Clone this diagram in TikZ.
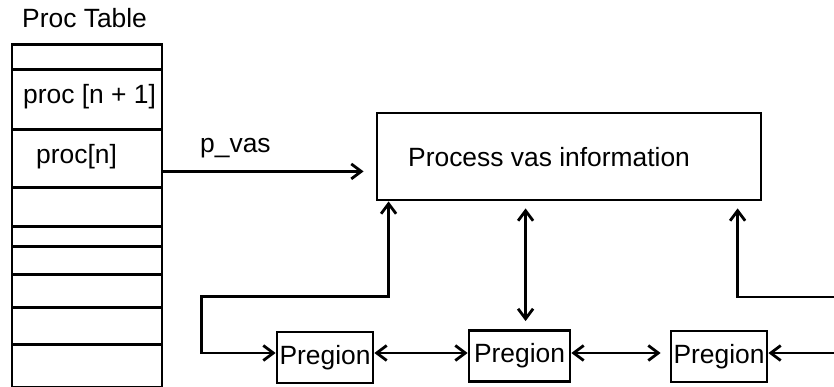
\documentclass[tikz,border=0pt]{standalone}
\usepackage{fontspec}
\setmainfont{Liberation Sans}
\usetikzlibrary{arrows.meta}
\begin{document}
\begin{tikzpicture}[x=1pt,y=-1pt,
  every node/.style={font=\fontsize{26.4}{30}\selectfont, inner sep=0pt},
  wire/.style={line width=2.8pt},
  cell/.style={draw, line width=2.8pt, minimum width=150pt, anchor=north west},
  box/.style={draw, line width=2.8pt},
  tip/.style={-{Straight Barb[length=10pt,width=15pt]}},
  tips/.style={{Straight Barb[length=10pt,width=15pt]}-{Straight Barb[length=10pt,width=15pt]}},
]
\useasboundingbox (0,0) rectangle (834,387);

% process table
\node[anchor=base west] (title) at (22,28) {Proc Table};
\node[cell, minimum height=25pt] (c1) at (10.5,43) {};
\node[cell, minimum height=60pt] (c2) at (10.5,68) {};
\node[cell, minimum height=58pt] (c3) at (10.5,128) {};
\node[cell, minimum height=39pt] (c4) at (10.5,186) {};
\node[cell, minimum height=20pt] (c5) at (10.5,225) {};
\node[cell, minimum height=28pt] (c6) at (10.5,245) {};
\node[cell, minimum height=33pt] (c7) at (10.5,273) {};
\node[cell, minimum height=37pt] (c8) at (10.5,306) {};
\node[cell, minimum height=43pt] (c9) at (10.5,343) {};
\node[anchor=base west] (t2) at (23,104) {proc [n + 1]};
\node[anchor=base west] (t3) at (36,163.5) {proc[n]};

% per-process vas information
\node[box, minimum width=384pt, minimum height=87pt] (pvi) at (569,156.5) {};
\node[anchor=base west] (pvitext) at (408,167) {Process vas information};

% pregions
\node[box, minimum width=96pt, minimum height=51pt] (pr1) at (325,357.5) {Pregion};
\node[box, minimum width=101pt, minimum height=51pt] (pr2) at (519.5,356) {Pregion};
\node[box, minimum width=96pt, minimum height=51pt] (pr3) at (719,356.5) {Pregion};

% p_vas pointer
\node[anchor=base west] (pvas) at (200,153) {p\_vas};
\draw[wire,tip,shorten >=12pt] ([yshift=-13pt]c3.east) -- ([yshift=-13pt]c3.east -| pvi.west);

% links between vas information and pregions
\draw[wire,tips] ([xshift=13pt]pvi.south west) -- ++(0,95)
  -| ([xshift=-74pt,yshift=4.5pt]pr1.west) -- ([yshift=4.5pt]pr1.west);
\draw[wire,tips,shorten <=7pt,shorten >=8pt] ([xshift=150pt]pvi.south west) -- ([xshift=58pt]pr2.north west);
\coordinate (e1) at (836,297);
\draw[wire,tip,shorten >=7pt] (e1) -| ([xshift=362pt]pvi.south west);

% pregion chain
\draw[wire,tips] ([yshift=4.5pt]pr1.east) -- ([yshift=3pt]pr2.west);
\draw[wire,tips,shorten >=9pt] ([yshift=3pt]pr2.east) -- ([yshift=3.5pt]pr3.west);
\coordinate (e2) at (836,353);
\draw[wire,tip] (e2) -- ([yshift=3.5pt]pr3.east);
\end{tikzpicture}
\end{document}
